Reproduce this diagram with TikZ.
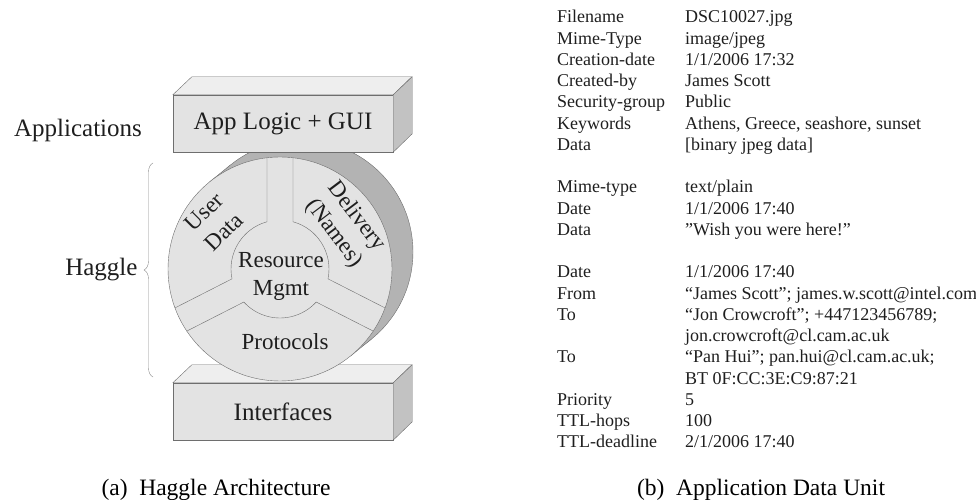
\documentclass[tikz,border=0pt]{standalone}
\usepackage{fontspec}
\setmainfont{Liberation Serif}
\usetikzlibrary{calc,decorations.pathreplacing}

\definecolor{facegray}{HTML}{E3E3E3}
\definecolor{topgray}{HTML}{EEEEEE}
\definecolor{sidegray}{HTML}{C2C2C2}
\definecolor{rimgray}{HTML}{B3B3B3}
\definecolor{linegray}{HTML}{6E6E6E}
\definecolor{bracegray}{HTML}{8A8A8A}
\definecolor{inkgray}{HTML}{1E1E1E}

\tikzset{
  layerbox/.style={draw=linegray, fill=facegray, minimum width=220pt, minimum height=57pt,
    inner sep=0pt, font=\fontsize{25}{28}\selectfont, text=inkgray},
  layerlabel/.style={font=\fontsize{25}{28}\selectfont, text=inkgray},
  slicelabel/.style={align=center, inner sep=0pt, font=\fontsize{23}{28}\selectfont, text=inkgray},
  adukey/.style={anchor=base west, inner sep=0pt, font=\fontsize{18}{21}\selectfont, text=inkgray},
  aduval/.style={adukey},
  subcap/.style={anchor=base, inner sep=0pt, font=\fontsize{23.5}{28}\selectfont, text=black},
}

% one line of the data unit: line number, field, value
\newcommand{\adurow}[3]{%
  \node[adukey] (key#1) at (557,{477-21.25*#1}) {#2};
  \node[aduval] (val#1) at (685,{477-21.25*#1}) {#3};}
% a value running on to the next line
\newcommand{\adumore}[2]{%
  \node[aduval] (val#1) at (685,{477-21.25*#1}) {#2};}

\begin{document}
\begin{tikzpicture}[x=1pt,y=1pt]
\useasboundingbox (0,0) rectangle (976,500);

% bottom layer
\node[layerbox] (iface) at (283,88.5) {Interfaces};
\filldraw[draw=linegray, fill=topgray] (iface.north west) -- ++(19,18) -- ++(220,0) -- (iface.north east) -- cycle;
\filldraw[draw=linegray, fill=sidegray] (iface.north east) -- ++(19,18) -- ++(0,-57) -- (iface.south east) -- cycle;

% the disc, back face and rim first
\coordinate (hub) at (280,231);
\filldraw[draw=linegray, fill=rimgray] ($(hub)+(21,17)$) circle (112pt);
\fill[rimgray] ($(hub)+(129:112)$) -- ++(21,17) -- ($(hub)+(-51:112)+(21,17)$) -- ($(hub)+(-51:112)$) -- cycle;
\draw[linegray] ($(hub)+(129:112)$) -- ++(21,17);
\draw[linegray] ($(hub)+(-51:112)$) -- ++(21,17);
\filldraw[draw=linegray, fill=facegray] (hub) circle (112pt);

% spokes and the inner ring
\foreach \a in {90,207,333}{
  \draw[linegray] ($(hub)+({\a+15.4}:49)$) -- ($(hub)+({\a+6.67}:112)$);
  \draw[linegray] ($(hub)+({\a-15.4}:49)$) -- ($(hub)+({\a-6.67}:112)$);
}
\foreach \s/\e in {105.4/191.6, 222.4/317.6, 348.4/434.6}
  \draw[linegray] ($(hub)+(\s:49)$) arc[start angle=\s, end angle=\e, radius=49pt];

\node[slicelabel, rotate=45] (userdata) at (214,278) {User\\Data};
\node[slicelabel, rotate=-53] (delivery) at (345,275) {Delivery\\(Names)};
\node[slicelabel] (resmgmt) at (281,224) {Resource\\Mgmt};
\node[slicelabel] (proto) at (285,158) {Protocols};

% top layer
\node[layerbox] (app) at (283,376.5) {App Logic + GUI};
\filldraw[draw=linegray, fill=topgray] (app.north west) -- ++(19,18) -- ++(220,0) -- (app.north east) -- cycle;
\filldraw[draw=linegray, fill=sidegray] (app.north east) -- ++(19,18) -- ++(0,-57) -- (app.south east) -- cycle;

% labels on the left
\node[layerlabel] (apps) at (78,370) {Applications};
\coordinate (hagtop) at (153,337);
\coordinate (hagbot) at (153,123);
\draw[bracegray, decorate, decoration={brace, amplitude=9pt}] (hagbot) -- (hagtop);
\node[layerlabel, anchor=east] (haggle) at (141,230) {Haggle};

% the data unit
\adurow{0}{Filename}{DSC10027.jpg}
\adurow{1}{Mime-Type}{image/jpeg}
\adurow{2}{Creation-date}{1/1/2006 17:32}
\adurow{3}{Created-by}{James Scott}
\adurow{4}{Security-group}{Public}
\adurow{5}{Keywords}{Athens, Greece, seashore, sunset}
\adurow{6}{Data}{[binary jpeg data]}
\adurow{8}{Mime-type}{text/plain}
\adurow{9}{Date}{1/1/2006 17:40}
\adurow{10}{Data}{''Wish you were here!''}
\adurow{12}{Date}{1/1/2006 17:40}
\adurow{13}{From}{``James Scott''; james.w.scott@intel.com}
\adurow{14}{To}{``Jon Crowcroft''; +447123456789;}
\adumore{15}{jon.crowcroft@cl.cam.ac.uk}
\adurow{16}{To}{``Pan Hui''; pan.hui@cl.cam.ac.uk;}
\adumore{17}{BT 0F:CC:3E:C9:87:21}
\adurow{18}{Priority}{5}
\adurow{19}{TTL-hops}{100}
\adurow{20}{TTL-deadline}{2/1/2006 17:40}

% captions
\node[subcap] (capa) at (216,5) {(a)\enspace Haggle Architecture};
\node[subcap] (capb) at (761,5) {(b)\enspace Application Data Unit};
\end{tikzpicture}
\end{document}
